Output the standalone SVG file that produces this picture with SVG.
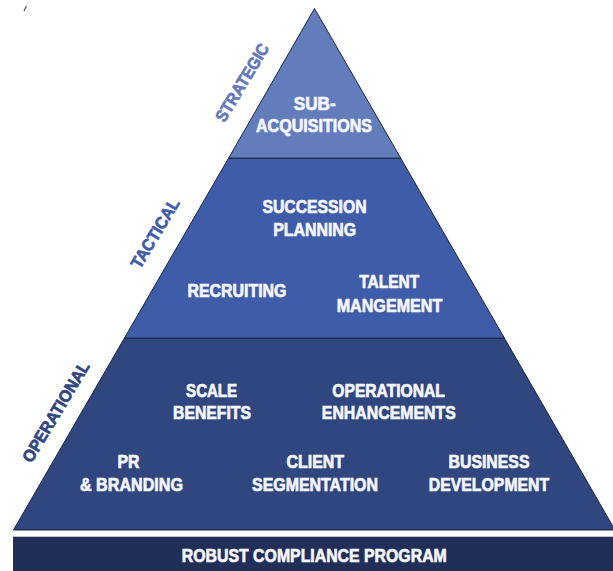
<svg xmlns="http://www.w3.org/2000/svg" width="613" height="571" viewBox="0 0 613 571">
  <style>
    .t { font-family: "Liberation Sans", Arial, sans-serif; font-weight: bold; font-size: 18.5px; fill: #f5f6fa; stroke: #f5f6fa; stroke-width: 0.7px; text-anchor: middle; }
    .side { font-family: "Liberation Sans", Arial, sans-serif; font-weight: bold; font-size: 17px; stroke-width: 0.7px; text-anchor: middle; }
    .layer { stroke: #1b2444; stroke-width: 1; }
  </style>
  <rect width="613" height="571" fill="#ffffff"/>
  <line x1="24" y1="11" x2="26.5" y2="6" stroke="#555" stroke-width="1.2"/>

  <g id="strategic">
    <polygon class="layer" points="314.5,8.5 228.5,158.3 400.8,158.3" fill="#637cbb"/>
    <text class="t" x="314.7" y="110" textLength="42" lengthAdjust="spacingAndGlyphs">SUB-</text>
    <text class="t" x="314" y="132.3" textLength="116" lengthAdjust="spacingAndGlyphs">ACQUISITIONS</text>
    <text class="side" fill="#6379b9" stroke="#6379b9" transform="translate(242,82.5) rotate(-59)" y="6" textLength="88" lengthAdjust="spacingAndGlyphs">STRATEGIC</text>
  </g>

  <g id="tactical">
    <polygon class="layer" points="228.5,158.3 400.8,158.3 504.5,338.3 124.3,338.3" fill="#3f5ca8"/>
    <text class="t" x="314.5" y="212.7" textLength="104" lengthAdjust="spacingAndGlyphs">SUCCESSION</text>
    <text class="t" x="314.7" y="235.7" textLength="83" lengthAdjust="spacingAndGlyphs">PLANNING</text>
    <text class="t" x="237" y="297.3" textLength="99" lengthAdjust="spacingAndGlyphs">RECRUITING</text>
    <text class="t" x="389.2" y="287.7" textLength="60" lengthAdjust="spacingAndGlyphs">TALENT</text>
    <text class="t" x="389.5" y="311.7" textLength="105.7" lengthAdjust="spacingAndGlyphs">MANGEMENT</text>
    <text class="side" fill="#3f5ca8" stroke="#3f5ca8" transform="translate(155,233.3) rotate(-59)" y="6" textLength="78" lengthAdjust="spacingAndGlyphs">TACTICAL</text>
  </g>

  <g id="operational">
    <polygon class="layer" points="124.3,338.3 504.5,338.3 615,530 13.5,530" fill="#30467e"/>
    <text class="t" x="211.6" y="396.7" textLength="51" lengthAdjust="spacingAndGlyphs">SCALE</text>
    <text class="t" x="212" y="419" textLength="78" lengthAdjust="spacingAndGlyphs">BENEFITS</text>
    <text class="t" x="388.6" y="396.7" textLength="112.6" lengthAdjust="spacingAndGlyphs">OPERATIONAL</text>
    <text class="t" x="388.8" y="419" textLength="134" lengthAdjust="spacingAndGlyphs">ENHANCEMENTS</text>
    <text class="t" x="128.4" y="468.3" textLength="22" lengthAdjust="spacingAndGlyphs">PR</text>
    <text class="t" x="131.5" y="491" textLength="103" lengthAdjust="spacingAndGlyphs">&amp; BRANDING</text>
    <text class="t" x="315.3" y="468.3" textLength="57.5" lengthAdjust="spacingAndGlyphs">CLIENT</text>
    <text class="t" x="315" y="491" textLength="126" lengthAdjust="spacingAndGlyphs">SEGMENTATION</text>
    <text class="t" x="489" y="468.3" textLength="81" lengthAdjust="spacingAndGlyphs">BUSINESS</text>
    <text class="t" x="489" y="491" textLength="120.4" lengthAdjust="spacingAndGlyphs">DEVELOPMENT</text>
    <text class="side" fill="#30467e" stroke="#30467e" transform="translate(55.8,411.7) rotate(-59)" y="6" textLength="114" lengthAdjust="spacingAndGlyphs">OPERATIONAL</text>
  </g>

  <g id="compliance">
    <rect x="13" y="536.7" width="600" height="34.3" fill="#212e57"/>
    <text class="t" x="314.3" y="561.7" textLength="265" lengthAdjust="spacingAndGlyphs">ROBUST COMPLIANCE PROGRAM</text>
  </g>

  <g id="connectors"></g>
</svg>
